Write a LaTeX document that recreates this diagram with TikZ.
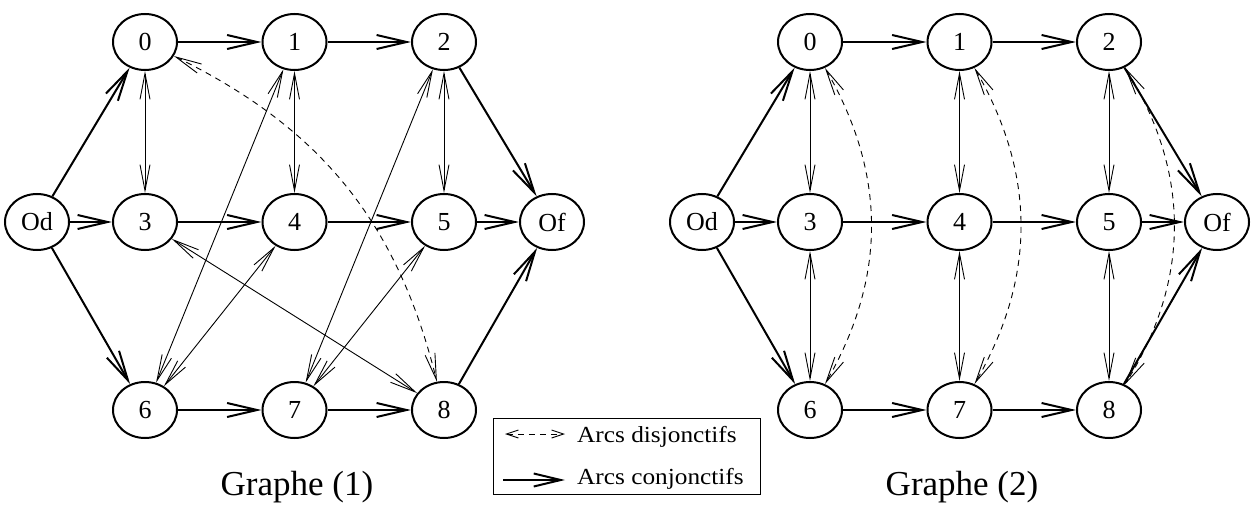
\documentclass[tikz,border=0pt]{standalone}
\usepackage{fontspec}
\usepackage{graphicx}
\setmainfont{Liberation Serif}
\usetikzlibrary{arrows.meta,shapes.geometric}
\tikzset{
  st/.style={draw,ellipse,line width=2pt,minimum width=64pt,minimum height=56pt,inner sep=0pt,font=\fontsize{26}{26}\selectfont},
  conj/.style={line width=2pt,-{Straight Barb[length=30pt,width=14pt,line width=2pt]}},
  disj/.style={line width=0.9pt,{Straight Barb[length=26pt,width=10pt]}-{Straight Barb[length=26pt,width=10pt]}},
  dsj/.style={disj,dash pattern=on 6pt off 5pt},
  legdsj/.style={line width=0.9pt,dash pattern=on 6pt off 5pt,{Straight Barb[length=12pt,width=8pt]}-{Straight Barb[length=12pt,width=8pt]}},
  legconj/.style={line width=2pt,-{Straight Barb[length=27pt,width=13pt,line width=2pt]}},
  ttl/.style={font=\fontsize{35}{35}\selectfont,anchor=base,inner sep=0pt},
  legtxt/.style={font=\fontsize{23}{23}\selectfont,anchor=base west,inner sep=0pt},
}
\begin{document}
\begin{tikzpicture}[x=1pt,y=-1pt]
\useasboundingbox (0,0) rectangle (1252,505);
% ---------- Graphe (1)
\node[st] (aOd) at (37,222) {Od};
\node[st] (a0) at (145,42) {0};
\node[st] (a1) at (294.5,42) {1};
\node[st] (a2) at (444,42) {2};
\node[st] (a3) at (145,222) {3};
\node[st] (a4) at (294.5,222) {4};
\node[st] (a5) at (444,222) {5};
\node[st] (aOf) at (552,222) {Of};
\node[st] (a6) at (145,410) {6};
\node[st] (a7) at (294.5,410) {7};
\node[st] (a8) at (444,410) {8};
\draw[conj] (aOd) -- (a0);
\draw[conj] (aOd) -- (a3);
\draw[conj] (aOd) -- (a6);
\draw[conj] (a0) -- (a1);
\draw[conj] (a1) -- (a2);
\draw[conj] (a2) -- (aOf);
\draw[conj] (a3) -- (a4);
\draw[conj] (a4) -- (a5);
\draw[conj] (a5) -- (aOf);
\draw[conj] (a6) -- (a7);
\draw[conj] (a7) -- (a8);
\draw[conj] (a8) -- (aOf);
\draw[disj] (a0) -- (a3);
\draw[disj] (a1) -- (a4);
\draw[disj] (a2) -- (a5);
\draw[disj] (a1) -- (a6);
\draw[disj] (a4) -- (a6);
\draw[disj] (a2) -- (a7);
\draw[disj] (a5) -- (a7);
\draw[disj] (a3) -- (a8);
\draw[dsj] (a0) to[bend left=25] (a8);
\node[ttl] (t1) at (297,495) {Graphe (1)};
% ---------- Graphe (2)
\node[st] (bOd) at (702,222) {Od};
\node[st] (b0) at (810,42) {0};
\node[st] (b1) at (959.5,42) {1};
\node[st] (b2) at (1109,42) {2};
\node[st] (b3) at (810,222) {3};
\node[st] (b4) at (959.5,222) {4};
\node[st] (b5) at (1109,222) {5};
\node[st] (bOf) at (1217,222) {Of};
\node[st] (b6) at (810,410) {6};
\node[st] (b7) at (959.5,410) {7};
\node[st] (b8) at (1109,410) {8};
\draw[conj] (bOd) -- (b0);
\draw[conj] (bOd) -- (b3);
\draw[conj] (bOd) -- (b6);
\draw[conj] (b0) -- (b1);
\draw[conj] (b1) -- (b2);
\draw[conj] (b2) -- (bOf);
\draw[conj] (b3) -- (b4);
\draw[conj] (b4) -- (b5);
\draw[conj] (b5) -- (bOf);
\draw[conj] (b6) -- (b7);
\draw[conj] (b7) -- (b8);
\draw[conj] (b8) -- (bOf);
\draw[disj] (b0) -- (b3);
\draw[disj] (b3) -- (b6);
\draw[disj] (b1) -- (b4);
\draw[disj] (b4) -- (b7);
\draw[disj] (b2) -- (b5);
\draw[disj] (b5) -- (b8);
\draw[dsj] (b0) to[bend left=30] (b6);
\draw[dsj] (b1) to[bend left=30] (b7);
\draw[dsj] (b2) to[bend left=32] (b8);
\node[ttl] (t2) at (962,495) {Graphe (2)};
% ---------- legend
\node[draw,line width=0.8pt,anchor=north west,minimum width=267pt,minimum height=76pt,inner sep=0pt] (leg) at (493,418) {};
\coordinate (l1a) at (505,434);
\coordinate (l1b) at (565,434);
\coordinate (l2a) at (503,480);
\coordinate (l2b) at (565,480);
\draw[legdsj] (l1a) -- (l1b);
\draw[legconj] (l2a) -- (l2b);
\node[legtxt] (lt1) at (577,442) {\scalebox{1.1}[1]{Arcs disjonctifs}};
\node[legtxt] (lt2) at (577,484) {\scalebox{1.1}[1]{Arcs conjonctifs}};
\end{tikzpicture}
\end{document}
